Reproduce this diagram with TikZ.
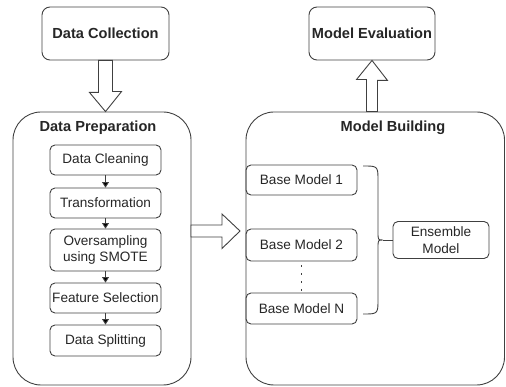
\documentclass[tikz,border=0pt]{standalone}
\usepackage{fontspec}
\setmainfont{Liberation Sans}
\usetikzlibrary{positioning,calc,arrows.meta}

\begin{document}
\begin{tikzpicture}[x=1pt,y=-1pt,>={Triangle[width=7pt,length=5.5pt]},
	every node/.style={text=black!85},
	line/.style={draw=black!75,line width=0.9pt},
	phase/.style={line,rounded corners=28pt,inner sep=0pt,minimum height=273pt},
	main/.style={line,rounded corners=8pt,inner sep=0pt,minimum width=127pt,minimum height=53pt,font=\fontsize{14.6}{17}\selectfont\bfseries},
	task/.style={line,rounded corners=5pt,inner sep=0pt,minimum width=111pt,minimum height=30pt,align=center,font=\fontsize{13.6}{16.5}\selectfont},
	title/.style={font=\fontsize{14.6}{17}\selectfont\bfseries},
	hollow/.style={line,fill=white,line join=miter}]

	\useasboundingbox (0,0) rectangle (506,387);

	% The stages
	\node [phase,minimum width=178pt] at (102,248.5) (prep) {};
	\node [phase,minimum width=258.5pt] at (375.25,248.5) (build) {};
	\node [title] at (98,128) (preptitle) {Data Preparation};
	\node [title] at (393,128) (buildtitle) {Model Building};
	\node [main] at (105.5,33.5) (collect) {Data Collection};
	\node [main,minimum width=126pt] at (372,33.5) (eval) {Model Evaluation};

	% Preparation steps
	\node [task] at (105.5,160) (clean) {Data Cleaning};
	\node [task] at (105.5,203) (trans) {Transformation};
	\node [task,minimum height=42pt] at (105.5,250) (smote) {Oversampling\\using SMOTE};
	\node [task] at (105.5,298) (feat) {Feature Selection};
	\node [task,minimum height=31pt] at (105.5,340.5) (split) {Data Splitting};

	% Models
	\node [task] at (301.5,180) (base1) {Base Model 1};
	\node [task,minimum height=32pt] at (301.5,245) (base2) {Base Model 2};
	\node [task,minimum height=31pt] at (301.5,308.5) (baseN) {Base Model N};
	\node [task,minimum width=96pt,minimum height=37pt] at (441,240) (ens) {Ensemble\\Model};

	% Step edges
	\path[line,->]
	(clean) edge (trans)
	(trans) edge (smote)
	(smote) edge (feat)
	(feat) edge (split)
	;
	\draw[line,line width=1.8pt,dash pattern=on 1.8pt off 6pt,dash phase=-4pt] (base2) -- (baseN);

	% Brace to the ensemble
	\coordinate (bt) at (363,166);
	\coordinate (bb) at (363,314);
	\coordinate (tip) at (383,240);
	\draw[line] (bt) .. controls (378,166) .. (378,181) -- (378,232)
		.. controls (378,240) .. (tip) .. controls (378,240) .. (378,248)
		-- (378,299) .. controls (378,314) .. (bb);
	\draw[line] (tip) -- (ens.west);

	% Big hollow arrows
	\coordinate (down1) at (collect.south);
	\coordinate (down2) at (collect.south |- prep.north);
	\coordinate (up1) at (eval.south |- build.north);
	\coordinate (up2) at (eval.south);
	\coordinate (rt1) at (191,231);
	\coordinate (rt2) at (240,231);
	\draw[hollow] ($(down1)+(-7,0)$) -- ++(0,32) -- ++(-9,0) -- (down2)
		-- ++(16,-20) -- ++(-9,0) -- ($(down1)+(7,0)$) -- cycle;
	\draw[hollow] ($(up1)+(-5.5,0)$) -- ++(0,-32) -- ++(-10,0) -- (up2)
		-- ++(15.5,20) -- ++(-10,0) -- ($(up1)+(5.5,0)$) -- cycle;
	\draw[hollow] ($(rt1)+(0,-6)$) -- ++(31,0) -- ++(0,-11) -- (rt2)
		-- ++(-18,17.5) -- ++(0,-11.5) -- ($(rt1)+(0,6)$) -- cycle;

\end{tikzpicture}
\end{document}
